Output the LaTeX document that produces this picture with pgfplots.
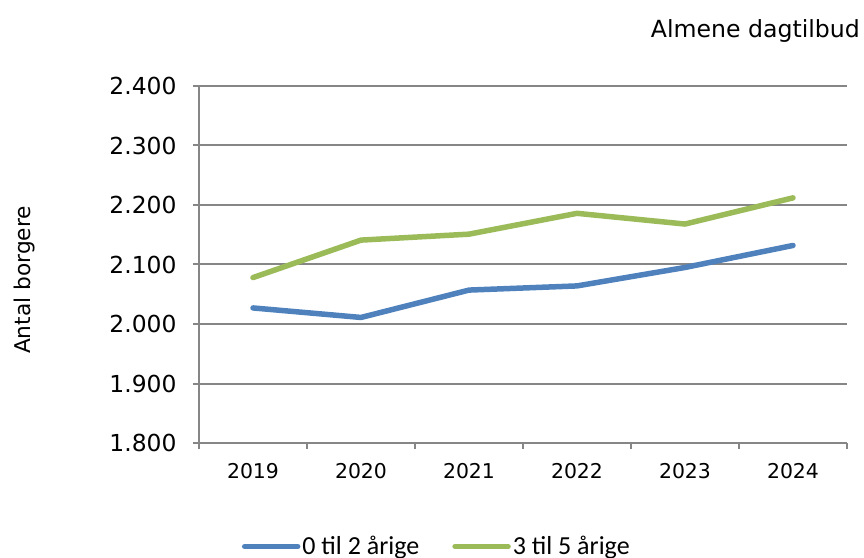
\documentclass[border=0pt]{standalone}
\usepackage{pgfplots}
\pgfplotsset{compat=1.18}
\usepackage{fontspec}
\setmainfont{DejaVu Sans}
\newfontfamily\legfont{Carlito}
\definecolor{serA}{HTML}{4F81BD}
\definecolor{serB}{HTML}{9BBB59}
\definecolor{gridc}{HTML}{868686}

\pgfplotstableread{
x val
1 2027
2 2011
3 2057
4 2064
5 2095
6 2132
}\youngest
\pgfplotstableread{
x val
1 2078
2 2141
3 2151
4 2186
5 2168
6 2212
}\oldest

\begin{document}
\begin{tikzpicture}
\useasboundingbox (-199bp,-115bp) rectangle (665bp,443bp);
\begin{axis}[
  at={(0,0)}, anchor=south west,
  scale only axis, width=648bp, height=357bp,
  xmin=0.5, xmax=6.5, ymin=1800, ymax=2400,
  xtick={1,...,6},
  xticklabels={2019,2020,2021,2022,2023,2024},
  minor xtick={0.5,1.5,...,6.5},
  ytick={1800,1900,...,2400},
  axis x line*=bottom, axis y line*=left,
  axis line style={gridc, line width=2bp, -},
  tick align=outside,
  major tick length=6bp, minor tick length=6bp,
  major x tick style={draw=none},
  minor x tick style={gridc, line width=2bp},
  y tick style={gridc, line width=2bp},
  ymajorgrids, grid style={gridc, line width=2bp},
  /pgf/number format/assume math mode=true,
  /pgf/number format/1000 sep={.},
  yticklabel style={font=\fontsize{23.4bp}{28bp}\selectfont, xshift=-13bp},
  xticklabel style={font=\fontsize{20.4bp}{24bp}\selectfont, yshift=-11bp},
  legend columns=2,
  legend style={at={(0.367,-0.29)}, anchor=center, draw=none, fill=none,
    font=\legfont\fontsize{26bp}{30bp}\selectfont,
    /tikz/every even column/.append style={column sep=31bp}},
  legend image code/.code={\draw[#1, line cap=round] (0bp,0bp) -- (53bp,0bp);},
]
\addplot[serA, line width=5.5bp, line cap=round, line join=round] table[x=x, y=val] {\youngest};
\addlegendentry{0 til 2 årige}
\addplot[serB, line width=5.5bp, line cap=round, line join=round] table[x=x, y=val] {\oldest};
\addlegendentry{3 til 5 årige}
\end{axis}
\node[anchor=east, font=\fontsize{23.6bp}{28bp}\selectfont, inner sep=0pt] at (661bp,412bp) {Almene dagtilbud};
\node[rotate=90, font=\fontsize{21.7bp}{26bp}\selectfont, inner sep=0pt] at (-174bp,163bp) {Antal borgere};
\end{tikzpicture}
\end{document}
